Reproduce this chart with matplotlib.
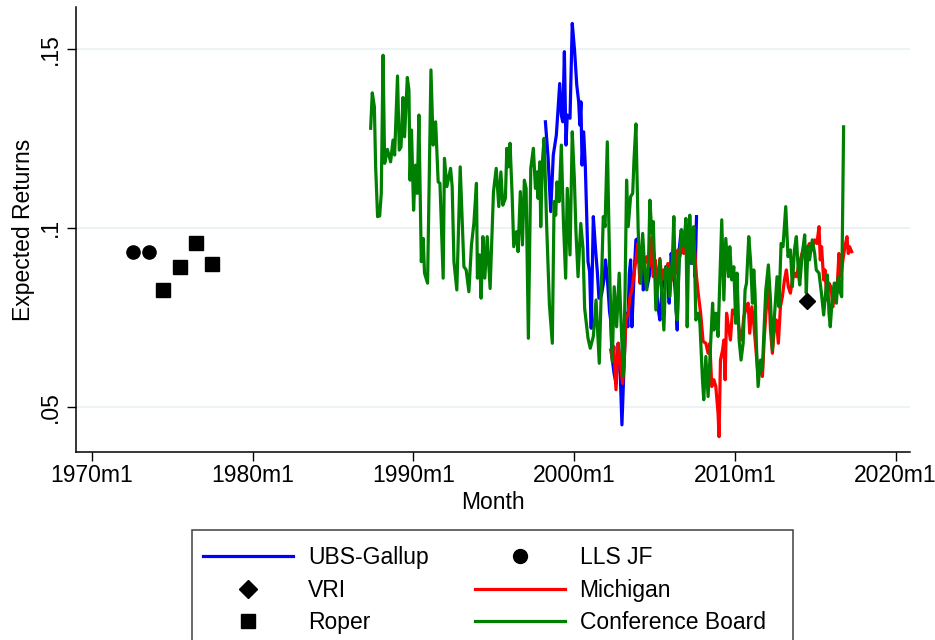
import numpy as np
import matplotlib
matplotlib.use("Agg")
import matplotlib.pyplot as plt
from matplotlib.lines import Line2D
from matplotlib.patches import Rectangle

plt.rcParams['font.family'] = ['Liberation Sans', 'DejaVu Sans']

# Conference Board (decimal year, expected return)
cb_t = [1987.35, 1987.45, 1987.58, 1987.66, 1987.78, 1987.91, 1988.01, 1988.12, 1988.22, 1988.39,
        1988.59, 1988.74, 1988.84, 1989.02, 1989.13, 1989.24, 1989.36, 1989.46, 1989.63, 1989.73,
        1989.80, 1989.89, 1990.02, 1990.14, 1990.25, 1990.35, 1990.50, 1990.62, 1990.70, 1990.89,
        1991.10, 1991.24, 1991.39, 1991.55, 1991.66, 1991.86, 1991.94, 1992.09, 1992.32, 1992.42,
        1992.53, 1992.71, 1992.92, 1993.15, 1993.29, 1993.46, 1993.62, 1993.77, 1993.93, 1993.99,
        1994.12, 1994.22, 1994.33, 1994.45, 1994.60, 1994.78, 1994.99, 1995.16, 1995.32, 1995.45,
        1995.57, 1995.73, 1995.82, 1995.90, 1996.02, 1996.15, 1996.25, 1996.42, 1996.52, 1996.66,
        1996.79, 1996.91, 1997.02, 1997.16, 1997.31, 1997.47, 1997.60, 1997.70, 1997.76, 1997.87,
        1997.93, 1998.03, 1998.14, 1998.30, 1998.47, 1998.65, 1998.76, 1998.86, 1998.94, 1999.07,
        1999.21, 1999.34, 1999.48, 1999.58, 1999.75, 1999.89, 2000.02, 2000.12, 2000.25, 2000.42,
        2000.56, 2000.66, 2000.87, 2001.01, 2001.20, 2001.37, 2001.57, 2001.82, 2001.93, 2002.07,
        2002.24, 2002.38, 2002.50, 2002.65, 2002.81, 2003.06, 2003.17, 2003.27, 2003.37, 2003.52,
        2003.65, 2003.73, 2003.85, 2003.99, 2004.14, 2004.27, 2004.41, 2004.52, 2004.64, 2004.72,
        2004.84, 2004.93, 2005.09, 2005.24, 2005.34, 2005.45, 2005.59, 2005.71, 2005.86, 2005.96,
        2006.13, 2006.21, 2006.34, 2006.42, 2006.54, 2006.69, 2006.83, 2006.96, 2007.04, 2007.12,
        2007.20, 2007.33, 2007.45, 2007.58, 2007.75, 2007.83, 2007.99, 2008.07, 2008.20, 2008.34,
        2008.45, 2008.62, 2008.70, 2008.82, 2008.96, 2009.07, 2009.19, 2009.32, 2009.44, 2009.61,
        2009.69, 2009.81, 2009.94, 2010.06, 2010.14, 2010.27, 2010.39, 2010.52, 2010.64, 2010.73,
        2010.87, 2010.98, 2011.10, 2011.18, 2011.26, 2011.35, 2011.45, 2011.60, 2011.72, 2011.80,
        2011.93, 2012.09, 2012.22, 2012.34, 2012.48, 2012.63, 2012.75, 2012.88, 2013.00, 2013.17,
        2013.31, 2013.46, 2013.58, 2013.71, 2013.83, 2013.96, 2014.04, 2014.20, 2014.35, 2014.45,
        2014.55, 2014.65, 2014.82, 2014.97, 2015.07, 2015.24, 2015.39, 2015.53, 2015.65, 2015.76,
        2015.86, 2015.94, 2016.07, 2016.19, 2016.32, 2016.44, 2016.52, 2016.65, 2016.77]
cb_v = [0.1278, 0.1377, 0.1338, 0.1170, 0.1031, 0.1033, 0.1096, 0.1482, 0.1180, 0.1219,
        0.1184, 0.1245, 0.1203, 0.1424, 0.1217, 0.1226, 0.1364, 0.1254, 0.1420, 0.1385,
        0.1133, 0.1273, 0.1049, 0.1175, 0.1096, 0.1315, 0.0905, 0.0970, 0.0873, 0.0845,
        0.1441, 0.1231, 0.1296, 0.1128, 0.1124, 0.0859, 0.1194, 0.1115, 0.1166, 0.1115,
        0.0905, 0.0826, 0.1170, 0.0891, 0.0882, 0.0821, 0.0952, 0.1012, 0.1124, 0.0859,
        0.0924, 0.0803, 0.0975, 0.0859, 0.0975, 0.0830, 0.1101, 0.1166, 0.1059, 0.1156,
        0.1063, 0.1082, 0.1222, 0.1170, 0.1236, 0.1091, 0.0947, 0.0989, 0.0933, 0.1101,
        0.0952, 0.1133, 0.1110, 0.0691, 0.1166, 0.1222, 0.1110, 0.1156, 0.1082, 0.1184,
        0.1003, 0.1184, 0.1250, 0.1003, 0.0784, 0.0677, 0.1073, 0.1035, 0.1128, 0.1073,
        0.1231, 0.1017, 0.0859, 0.1110, 0.0924, 0.1268, 0.1138, 0.0989, 0.0863, 0.1012,
        0.0942, 0.0775, 0.0691, 0.0663, 0.0696, 0.0798, 0.0621, 0.1031, 0.1003, 0.1240,
        0.0835, 0.0626, 0.0835, 0.0723, 0.0873, 0.0584, 0.0807, 0.1133, 0.1003, 0.1087,
        0.1096, 0.1189, 0.1290, 0.0994, 0.0845, 0.0984, 0.0873, 0.0826, 0.0919, 0.1077,
        0.0984, 0.1017, 0.0770, 0.0854, 0.0910, 0.0826, 0.0714, 0.0891, 0.0882, 0.0807,
        0.0928, 0.1031, 0.0770, 0.0742, 0.0900, 0.0994, 0.0947, 0.1026, 0.0723, 0.0919,
        0.1035, 0.0900, 0.1003, 0.0742, 0.0761, 0.0733, 0.0575, 0.0519, 0.0640, 0.0528,
        0.0630, 0.0789, 0.0714, 0.0761, 0.0696, 0.0854, 0.1022, 0.0798, 0.0970, 0.0863,
        0.0947, 0.0854, 0.0891, 0.0733, 0.0873, 0.0686, 0.0630, 0.0677, 0.0826, 0.0845,
        0.0975, 0.0910, 0.0789, 0.0882, 0.0817, 0.0668, 0.0556, 0.0630, 0.0603, 0.0696,
        0.0826, 0.0896, 0.0798, 0.0658, 0.0761, 0.0863, 0.0779, 0.0956, 0.0947, 0.1059,
        0.0919, 0.0938, 0.0835, 0.0938, 0.0975, 0.0873, 0.0840, 0.0928, 0.0980, 0.0817,
        0.0947, 0.0910, 0.0966, 0.0928, 0.0882, 0.0873, 0.0817, 0.0756, 0.0817, 0.0868,
        0.0761, 0.0723, 0.0807, 0.0845, 0.0789, 0.0863, 0.0826, 0.0807, 0.1282]

# UBS-Gallup
ubs_t = [1998.22, 1998.39, 1998.55, 1998.71, 1998.90, 1999.11, 1999.21, 1999.30, 1999.40, 1999.50,
         1999.58, 1999.75, 1999.89, 2000.04, 2000.17, 2000.29, 2000.36, 2000.43, 2000.50, 2000.60,
         2000.70, 2000.87, 2000.97, 2001.07, 2001.20, 2001.35, 2001.45, 2001.55, 2001.70, 2001.86,
         2001.96, 2002.08, 2002.21, 2002.28, 2002.36, 2002.49, 2002.61, 2002.75, 2002.86, 2002.98,
         2003.11, 2003.23, 2003.35, 2003.44, 2003.52, 2003.60, 2003.73, 2003.85, 2003.98, 2004.06,
         2004.18, 2004.31, 2004.43, 2004.55, 2004.72, 2004.83, 2004.97, 2005.09, 2005.22, 2005.34,
         2005.47, 2005.59, 2005.71, 2005.84, 2005.92, 2006.04, 2006.17, 2006.29, 2006.42, 2006.54,
         2006.67, 2006.79, 2006.91, 2007.04, 2007.16, 2007.29, 2007.41, 2007.53, 2007.62]
ubs_v = [0.1296, 0.1194, 0.1045, 0.1203, 0.1259, 0.1403, 0.1315, 0.1296, 0.1492, 0.1231,
         0.1315, 0.1306, 0.1571, 0.1492, 0.1399, 0.1352, 0.1287, 0.1352, 0.1175, 0.1268,
         0.1175, 0.0905, 0.0877, 0.0719, 0.1031, 0.0933, 0.0877, 0.0803, 0.0810, 0.0854,
         0.0910, 0.0854, 0.0765, 0.0742, 0.0640, 0.0593, 0.0565, 0.0677, 0.0612, 0.0449,
         0.0612, 0.0761, 0.0723, 0.0873, 0.0910, 0.0723, 0.0863, 0.0966, 0.0970, 0.0900,
         0.0938, 0.0826, 0.0873, 0.0835, 0.0873, 0.0956, 0.0928, 0.0854, 0.0779, 0.0742,
         0.0826, 0.0863, 0.0891, 0.0854, 0.0789, 0.0928, 0.0891, 0.0826, 0.0714, 0.0938,
         0.0994, 0.0966, 0.0947, 0.0975, 0.1012, 0.0900, 0.0966, 0.0863, 0.1031]

# Michigan
mich_t = [2002.28, 2002.40, 2002.48, 2002.61, 2002.75, 2002.86, 2003.02, 2003.11, 2003.23, 2003.37,
          2003.48, 2003.60, 2003.68, 2003.85, 2003.97, 2004.10, 2004.22, 2004.35, 2004.52, 2004.68,
          2004.84, 2004.93, 2005.05, 2005.17, 2005.34, 2005.47, 2005.59, 2005.71, 2005.84, 2005.96,
          2006.09, 2006.21, 2006.34, 2006.46, 2006.58, 2006.71, 2006.83, 2006.96, 2007.08, 2007.25,
          2007.37, 2007.50, 2007.62, 2007.75, 2007.88, 2008.03, 2008.20, 2008.34, 2008.45, 2008.57,
          2008.70, 2008.82, 2008.96, 2009.02, 2009.11, 2009.24, 2009.32, 2009.40, 2009.49, 2009.61,
          2009.73, 2009.86, 2009.98, 2010.06, 2010.19, 2010.31, 2010.43, 2010.56, 2010.68, 2010.83,
          2010.93, 2011.06, 2011.18, 2011.30, 2011.45, 2011.60, 2011.72, 2011.84, 2011.97, 2012.09,
          2012.22, 2012.34, 2012.47, 2012.59, 2012.71, 2012.84, 2012.96, 2013.09, 2013.21, 2013.33,
          2013.46, 2013.58, 2013.71, 2013.83, 2013.96, 2014.08, 2014.24, 2014.41, 2014.55, 2014.65,
          2014.82, 2014.97, 2015.11, 2015.24, 2015.32, 2015.40, 2015.53, 2015.61, 2015.73, 2015.86,
          2015.98, 2016.11, 2016.23, 2016.35, 2016.48, 2016.60, 2016.73, 2016.85, 2016.98, 2017.06,
          2017.14, 2017.27]
mich_v = [0.0658, 0.0630, 0.0668, 0.0547, 0.0677, 0.0630, 0.0565, 0.0612, 0.0742, 0.0761,
          0.0807, 0.0826, 0.0854, 0.0910, 0.0956, 0.0845, 0.0910, 0.0891, 0.0919, 0.0891,
          0.0975, 0.0863, 0.0910, 0.0826, 0.0914, 0.0854, 0.0882, 0.0854, 0.0900, 0.0882,
          0.0854, 0.0891, 0.0873, 0.0938, 0.0919, 0.0947, 0.0928, 0.0966, 0.0910, 0.0947,
          0.0994, 0.0938, 0.0863, 0.0807, 0.0760, 0.0682, 0.0677, 0.0649, 0.0677, 0.0556,
          0.0575, 0.0556, 0.0481, 0.0416, 0.0630, 0.0658, 0.0686, 0.0575, 0.0761, 0.0723,
          0.0686, 0.0770, 0.0761, 0.0779, 0.0742, 0.0705, 0.0686, 0.0751, 0.0770, 0.0789,
          0.0705, 0.0779, 0.0733, 0.0668, 0.0584, 0.0612, 0.0584, 0.0696, 0.0779, 0.0854,
          0.0714, 0.0649, 0.0723, 0.0742, 0.0677, 0.0779, 0.0807, 0.0854, 0.0882, 0.0835,
          0.0817, 0.0854, 0.0873, 0.0863, 0.0891, 0.0910, 0.0938, 0.0910, 0.0947, 0.0956,
          0.0938, 0.0966, 0.0956, 0.1003, 0.0910, 0.0947, 0.0854, 0.0882, 0.0798, 0.0845,
          0.0835, 0.0779, 0.0845, 0.0817, 0.0928, 0.0863, 0.0910, 0.0947, 0.0975, 0.0928,
          0.0947, 0.0933]

# LLS JF, VRI and Roper survey points
lls_t = [1972.55, 1973.55]
lls_v = [0.0931, 0.0931]
vri_t = [2014.48]
vri_v = [0.0796]
roper_t = [1974.45, 1975.49, 1976.49, 1977.48]
roper_v = [0.0826, 0.0889, 0.0956, 0.0899]

yticks = [0.05, 0.1, 0.15]
ytick_labels = ['.05', '.1', '.15']
xticks = [1970, 1980, 1990, 2000, 2010, 2020]
xtick_labels = ['%dm1' % y for y in xticks]

W, H = 935, 640
fig = plt.figure(figsize=(W / 100, H / 100), dpi=100)
ax = fig.add_axes([76 / W, (H - 452) / H, 834 / W, 445 / H])

fs = 16.5
lw = 2.3
ax.plot(ubs_t, ubs_v, color='#0000ff', lw=lw, zorder=3)
ax.plot(lls_t, lls_v, 'o', color='black', ms=9.5, zorder=5)
ax.plot(mich_t, mich_v, color='#ff0000', lw=lw, zorder=4)
ax.plot(roper_t, roper_v, 's', color='black', ms=10, zorder=5)
ax.plot(cb_t, cb_v, color='#008000', lw=lw, zorder=4.5)
ax.plot(vri_t, vri_v, 'D', color='black', ms=8, zorder=6)

ax.set_xlim(1969.02, 2020.9)
ax.set_ylim(0.0373, 0.1617)
ax.set_xticks(xticks)
ax.set_xticklabels(xtick_labels, fontsize=fs)
ax.set_yticks(yticks)
ax.set_yticklabels(ytick_labels, fontsize=fs, rotation=90, va='center')
ax.tick_params(axis='both', direction='out', length=6.5, width=1.0, color='black')
ax.tick_params(axis='x', pad=2.5)
ax.tick_params(axis='y', pad=3.5)

ax.grid(axis='y', color='#eaf2f3', lw=1.3)
ax.set_axisbelow(True)
for s in ['top', 'right']:
    ax.spines[s].set_visible(False)
for s in ['left', 'bottom']:
    ax.spines[s].set_linewidth(1.1)

ax.set_xlabel('Month', fontsize=fs)
ax.set_ylabel('Expected Returns', fontsize=fs)
ax.xaxis.set_label_coords(0.5, -(491 - 452) / 445)
ax.yaxis.set_label_coords((35 - 76) / 834, 0.5)

# legend box, bottom edge runs off the image like the original
fig.patches.append(Rectangle((192 / W, (H - 680) / H), (793 - 192) / W, 150 / H,
                             transform=fig.transFigure, fill=False,
                             edgecolor='#404040', lw=1.1))
handles = [Line2D([], [], color='#0000ff', lw=lw),
           Line2D([], [], marker='D', color='black', ls='none', ms=9),
           Line2D([], [], marker='s', color='black', ls='none', ms=10),
           Line2D([], [], marker='o', color='black', ls='none', ms=10),
           Line2D([], [], color='#ff0000', lw=lw),
           Line2D([], [], color='#008000', lw=lw)]
labels = ['UBS-Gallup', 'VRI', 'Roper', 'LLS JF', 'Michigan', 'Conference Board']
fig.legend(handles, labels, ncol=2, loc='upper left',
           bbox_to_anchor=(192 / W, (H - 535) / H), frameon=False,
           fontsize=fs, handlelength=3.93, handletextpad=0.65, borderpad=0.48,
           labelspacing=0.42, columnspacing=2.0, borderaxespad=0, numpoints=1)

fig.savefig('out.png', dpi=100)
